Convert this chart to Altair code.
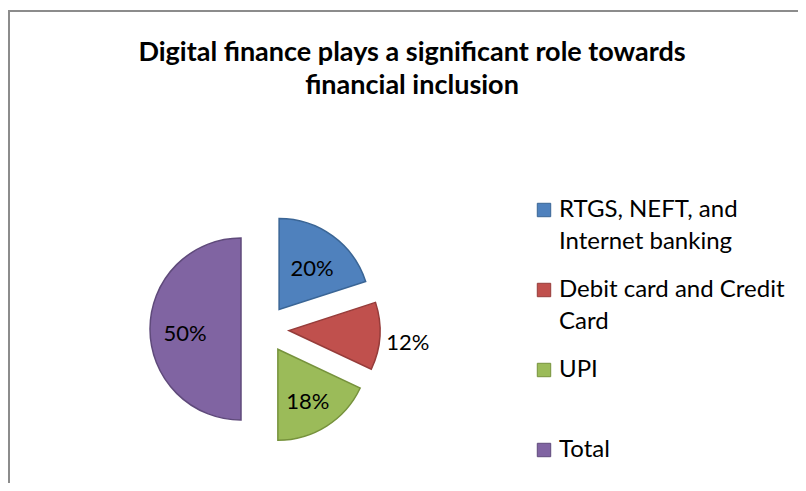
import altair as alt
import pandas as pd

# ---- data ----
CATEGORIES = ["RTGS, NEFT, and\nInternet banking", "Debit card and Credit\nCard", "UPI", "Total"]
SHARES = [20, 12, 18, 50]
LABELS = ["20%", "12%", "18%", "50%"]
COLORS = ["#4F81BD", "#C0504D", "#9BBB59", "#8064A2"]
EDGES = ["#3A6595", "#963C3A", "#76923C", "#5F4A7B"]
TITLE = ["Digital finance plays a significant role towards", "financial inclusion"]

# ---- layout / style ----
W, H = 790, 475
CX, CY = 257, 321
R = 91
EXPLODE = 24
LABEL_IN = 56
LABEL_OUT = 119
FONT = "Lato"
LEG_X = 536
LEG_Y0 = 202
LEG_STEP = 80

df = pd.DataFrame({"category": CATEGORIES, "share": SHARES, "label": LABELS,
                   "order": list(range(len(CATEGORIES)))})

base = (
    alt.Chart(df)
    .transform_joinaggregate(total="sum(share)")
    .transform_window(cum="sum(share)", sort=[alt.SortField("order")], frame=[None, 0])
    .transform_calculate(
        t0="2*PI*(datum.cum - datum.share)/datum.total",
        t1="2*PI*datum.cum/datum.total",
    )
    .transform_calculate(mid="(datum.t0 + datum.t1)/2")
    .transform_calculate(
        px=f"{CX} + {EXPLODE}*sin(datum.mid)",
        py=f"{CY} - {EXPLODE}*cos(datum.mid)",
        lr=f"datum.share < 15 ? {LABEL_OUT} : {LABEL_IN}",
    )
    .transform_calculate(
        lx="datum.px + datum.lr*sin(datum.mid)",
        ly="datum.py - datum.lr*cos(datum.mid)",
    )
)

color_scale = alt.Scale(domain=CATEGORIES, range=COLORS)
edge_scale = alt.Scale(domain=CATEGORIES, range=EDGES)

arcs = base.mark_arc(radius=R, strokeWidth=1.5).encode(
    theta=alt.Theta("t0:Q", scale=None),
    theta2="t1:Q",
    x=alt.X("px:Q", scale=None),
    y=alt.Y("py:Q", scale=None),
    color=alt.Color("category:N", scale=color_scale, legend=None),
    stroke=alt.Stroke("category:N", scale=edge_scale, legend=None),
)

texts = base.mark_text(font=FONT, fontSize=22, color="#000000", dy=5).encode(
    x=alt.X("lx:Q", scale=None),
    y=alt.Y("ly:Q", scale=None),
    text="label:N",
)

# ---- legend (built from the same categories) ----
legend_base = (
    alt.Chart(df)
    .transform_calculate(ly=f"{LEG_Y0} + datum.order*{LEG_STEP}")
)
legend_sym = legend_base.mark_square(size=180, opacity=1, strokeWidth=1).encode(
    x=alt.value(LEG_X),
    y=alt.Y("ly:Q", scale=None),
    color=alt.Color("category:N", scale=color_scale, legend=None),
    stroke=alt.Stroke("category:N", scale=edge_scale, legend=None),
)
legend_txt = legend_base.mark_text(
    font=FONT, fontSize=24, color="#000000", align="left", baseline="middle",
    lineBreak="\n", lineHeight=32,
).encode(
    x=alt.value(LEG_X + 15),
    y=alt.Y("ly:Q", scale=None),
    text="category:N",
)

frame_df = pd.DataFrame({"k": [0]})
left_border = alt.Chart(frame_df).mark_rule(color="#8C8C8C", strokeWidth=2).encode(
    x=alt.value(1), y=alt.value(2), y2=alt.value(H)
)
top_border = alt.Chart(frame_df).mark_rule(color="#8C8C8C", strokeWidth=2).encode(
    x=alt.value(0), x2=alt.value(W), y=alt.value(3)
)

chart = (
    alt.layer(left_border, top_border, arcs, texts, legend_sym, legend_txt)
    .properties(
        width=W,
        height=H,
        autosize=alt.AutoSizeParams(type="none"),
        padding=0,
        title=alt.Title(
            TITLE,
            font=FONT,
            fontSize=27,
            fontWeight="bold",
            color="#000000",
            lineHeight=33,
            anchor="middle",
            frame="group",
            baseline="top",
            offset=0,
            dy=92,
            dx=9,
        ),
    )
    .configure_view(stroke=None)
)

chart.save("out.html", embed_options={"renderer": "svg", "actions": False})
